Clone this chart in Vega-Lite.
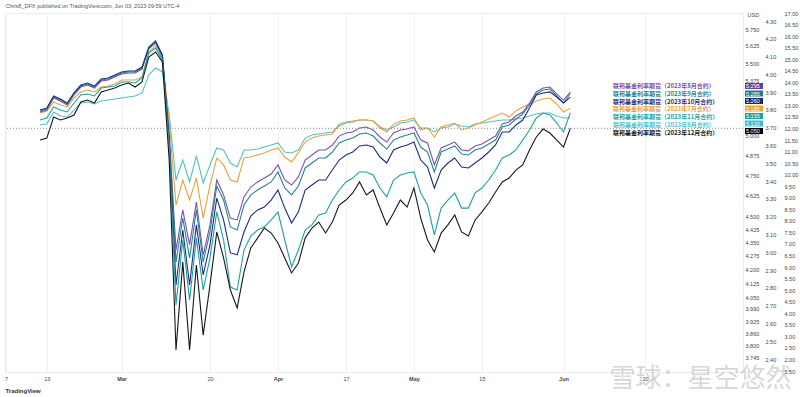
{
  "$schema": "https://vega.github.io/schema/vega-lite/v6.json",
  "width": 738,
  "height": 359,
  "autosize": "none",
  "padding": {"left": 5, "top": 13, "right": 57, "bottom": 25},
  "background": "white",
  "config": {"view": {"stroke": "#ececec"}},
  "datasets": {
    "meta": [
      {"s": "aug", "name": "联邦基金利率期货（2023年8月合约）"},
      {"s": "sep", "name": "联邦基金利率期货（2023年9月合约）"},
      {"s": "oct", "name": "联邦基金利率期货（2023年10月合约）"},
      {"s": "jul", "name": "联邦基金利率期货（2023年7月合约）"},
      {"s": "nov", "name": "联邦基金利率期货（2023年11月合约）"},
      {"s": "jun", "name": "联邦基金利率期货（2023年6月合约）"},
      {"s": "dec", "name": "联邦基金利率期货（2023年12月合约）"}
    ],
    "rates": [
      {"d":0,"jun":5.072,"jul":5.152,"aug":5.159,"sep":5.166,"oct":5.172,"nov":5.105,"dec":4.973},
      {"d":1,"jun":5.078,"jul":5.166,"aug":5.172,"sep":5.179,"oct":5.186,"nov":5.119,"dec":4.986},
      {"d":2,"jun":5.159,"jul":5.227,"aug":5.254,"sep":5.261,"oct":5.268,"nov":5.193,"dec":5.125},
      {"d":3,"jun":5.132,"jul":5.206,"aug":5.234,"sep":5.240,"oct":5.247,"nov":5.172,"dec":5.105},
      {"d":4,"jun":5.125,"jul":5.193,"aug":5.206,"sep":5.213,"oct":5.220,"nov":5.159,"dec":5.119},
      {"d":5,"jun":5.172,"jul":5.254,"aug":5.275,"sep":5.282,"oct":5.289,"nov":5.220,"dec":5.139},
      {"d":6,"jun":5.220,"jul":5.296,"aug":5.330,"sep":5.337,"oct":5.344,"nov":5.275,"dec":5.227},
      {"d":7,"jun":5.227,"jul":5.309,"aug":5.344,"sep":5.351,"oct":5.358,"nov":5.282,"dec":5.240},
      {"d":8,"jun":5.213,"jul":5.296,"aug":5.323,"sep":5.330,"oct":5.337,"nov":5.268,"dec":5.220},
      {"d":9,"jun":5.234,"jul":5.330,"aug":5.372,"sep":5.379,"oct":5.386,"nov":5.323,"dec":5.296},
      {"d":10,"jun":5.240,"jul":5.337,"aug":5.379,"sep":5.386,"oct":5.393,"nov":5.330,"dec":5.309},
      {"d":11,"jun":5.247,"jul":5.351,"aug":5.400,"sep":5.408,"oct":5.415,"nov":5.337,"dec":5.323},
      {"d":12,"jun":5.254,"jul":5.379,"aug":5.422,"sep":5.429,"oct":5.436,"nov":5.365,"dec":5.344},
      {"d":13,"jun":5.261,"jul":5.379,"aug":5.429,"sep":5.436,"oct":5.443,"nov":5.365,"dec":5.358},
      {"d":14,"jun":5.268,"jul":5.379,"aug":5.429,"sep":5.436,"oct":5.443,"nov":5.358,"dec":5.330},
      {"d":15,"jun":5.289,"jul":5.400,"aug":5.457,"sep":5.464,"oct":5.471,"nov":5.393,"dec":5.365},
      {"d":16,"jun":5.415,"jul":5.580,"aug":5.602,"sep":5.609,"oct":5.616,"nov":5.573,"dec":5.543},
      {"d":17,"jun":5.464,"jul":5.624,"aug":5.646,"sep":5.653,"oct":5.661,"nov":5.609,"dec":5.580},
      {"d":18,"jun":5.436,"jul":5.536,"aug":5.543,"sep":5.551,"oct":5.558,"nov":5.522,"dec":5.507},
      {"d":19,"jun":5.139,"jul":5.092,"aug":5.006,"sep":4.993,"oct":4.973,"nov":4.941,"dec":4.845},
      {"d":20,"jun":4.720,"jul":4.568,"aug":4.307,"sep":4.240,"oct":4.115,"nov":4.009,"dec":3.780},
      {"d":21,"jun":4.845,"jul":4.720,"aug":4.539,"sep":4.491,"oct":4.421,"nov":4.364,"dec":4.240},
      {"d":22,"jun":4.708,"jul":4.598,"aug":4.336,"sep":4.263,"oct":4.115,"nov":4.035,"dec":3.780},
      {"d":23,"jun":4.871,"jul":4.732,"aug":4.586,"sep":4.539,"oct":4.451,"nov":4.375,"dec":4.224},
      {"d":24,"jun":4.702,"jul":4.491,"aug":4.279,"sep":4.240,"oct":4.169,"nov":4.088,"dec":3.854},
      {"d":25,"jun":4.814,"jul":4.689,"aug":4.451,"sep":4.410,"oct":4.336,"nov":4.263,"dec":4.115},
      {"d":26,"jun":4.922,"jul":4.858,"aug":4.720,"sep":4.683,"oct":4.610,"nov":4.527,"dec":4.410},
      {"d":27,"jun":4.909,"jul":4.814,"aug":4.629,"sep":4.598,"oct":4.480,"nov":4.364,"dec":4.263},
      {"d":28,"jun":4.826,"jul":4.720,"aug":4.491,"sep":4.439,"oct":4.291,"nov":4.104,"dec":4.088},
      {"d":29,"jun":4.801,"jul":4.708,"aug":4.480,"sep":4.421,"oct":4.280,"nov":4.088,"dec":3.993},
      {"d":30,"jun":4.909,"jul":4.858,"aug":4.617,"sep":4.568,"oct":4.410,"nov":4.307,"dec":4.185},
      {"d":31,"jun":4.909,"jul":4.864,"aug":4.677,"sep":4.629,"oct":4.503,"nov":4.387,"dec":4.319},
      {"d":32,"jun":4.915,"jul":4.877,"aug":4.708,"sep":4.659,"oct":4.539,"nov":4.421,"dec":4.375},
      {"d":33,"jun":4.928,"jul":4.890,"aug":4.732,"sep":4.683,"oct":4.556,"nov":4.439,"dec":4.433},
      {"d":34,"jun":4.941,"jul":4.909,"aug":4.757,"sep":4.708,"oct":4.598,"nov":4.480,"dec":4.404},
      {"d":35,"jun":4.954,"jul":4.922,"aug":4.814,"sep":4.770,"oct":4.659,"nov":4.527,"dec":4.347},
      {"d":36,"jun":4.896,"jul":4.864,"aug":4.720,"sep":4.671,"oct":4.550,"nov":4.364,"dec":4.263},
      {"d":37,"jun":4.890,"jul":4.833,"aug":4.689,"sep":4.629,"oct":4.462,"nov":4.213,"dec":4.180},
      {"d":38,"jun":4.909,"jul":4.890,"aug":4.739,"sep":4.683,"oct":4.527,"nov":4.307,"dec":4.235},
      {"d":39,"jun":4.986,"jul":4.960,"aug":4.845,"sep":4.795,"oct":4.659,"nov":4.421,"dec":4.375},
      {"d":40,"jun":5.006,"jul":4.986,"aug":4.877,"sep":4.826,"oct":4.689,"nov":4.451,"dec":4.433},
      {"d":41,"jun":5.013,"jul":4.999,"aug":4.909,"sep":4.858,"oct":4.720,"nov":4.509,"dec":4.468},
      {"d":42,"jun":5.019,"jul":5.006,"aug":4.909,"sep":4.858,"oct":4.720,"nov":4.521,"dec":4.404},
      {"d":43,"jun":5.026,"jul":5.013,"aug":4.941,"sep":4.896,"oct":4.782,"nov":4.598,"dec":4.468},
      {"d":44,"jun":5.065,"jul":5.078,"aug":4.999,"sep":4.954,"oct":4.845,"nov":4.659,"dec":4.568},
      {"d":45,"jun":5.085,"jul":5.092,"aug":5.019,"sep":4.973,"oct":4.877,"nov":4.708,"dec":4.598},
      {"d":46,"jun":5.092,"jul":5.098,"aug":5.026,"sep":4.986,"oct":4.896,"nov":4.732,"dec":4.641},
      {"d":47,"jun":5.105,"jul":5.105,"aug":5.052,"sep":5.013,"oct":4.935,"nov":4.770,"dec":4.708},
      {"d":48,"jun":5.105,"jul":5.105,"aug":5.059,"sep":5.019,"oct":4.941,"nov":4.770,"dec":4.629},
      {"d":49,"jun":5.098,"jul":5.098,"aug":5.039,"sep":4.999,"oct":4.928,"nov":4.751,"dec":4.659},
      {"d":50,"jun":5.059,"jul":5.052,"aug":4.993,"sep":4.954,"oct":4.864,"nov":4.671,"dec":4.550},
      {"d":51,"jun":5.039,"jul":5.026,"aug":4.960,"sep":4.915,"oct":4.826,"nov":4.617,"dec":4.451},
      {"d":52,"jun":5.059,"jul":5.078,"aug":5.019,"sep":4.973,"oct":4.909,"nov":4.720,"dec":4.521},
      {"d":53,"jun":5.085,"jul":5.098,"aug":5.039,"sep":4.993,"oct":4.928,"nov":4.751,"dec":4.598},
      {"d":54,"jun":5.092,"jul":5.105,"aug":5.045,"sep":5.006,"oct":4.941,"nov":4.764,"dec":4.556},
      {"d":55,"jun":5.105,"jul":5.119,"aug":5.059,"sep":5.019,"oct":4.960,"nov":4.770,"dec":4.671},
      {"d":56,"jun":5.052,"jul":5.039,"aug":4.973,"sep":4.928,"oct":4.845,"nov":4.641,"dec":4.491},
      {"d":57,"jun":5.052,"jul":5.052,"aug":4.954,"sep":4.896,"oct":4.801,"nov":4.568,"dec":4.364},
      {"d":58,"jun":5.026,"jul":4.993,"aug":4.814,"sep":4.770,"oct":4.671,"nov":4.393,"dec":4.296},
      {"d":59,"jun":5.052,"jul":5.059,"aug":4.922,"sep":4.896,"oct":4.782,"nov":4.550,"dec":4.404},
      {"d":60,"jun":5.059,"jul":5.072,"aug":4.941,"sep":4.915,"oct":4.826,"nov":4.598,"dec":4.451},
      {"d":61,"jun":5.078,"jul":5.085,"aug":4.960,"sep":4.935,"oct":4.858,"nov":4.641,"dec":4.509},
      {"d":62,"jun":5.065,"jul":5.039,"aug":4.909,"sep":4.883,"oct":4.801,"nov":4.550,"dec":4.410},
      {"d":63,"jun":5.059,"jul":5.052,"aug":4.903,"sep":4.877,"oct":4.795,"nov":4.550,"dec":4.387},
      {"d":64,"jun":5.078,"jul":5.072,"aug":4.935,"sep":4.909,"oct":4.826,"nov":4.641,"dec":4.480},
      {"d":65,"jun":5.085,"jul":5.092,"aug":4.948,"sep":4.922,"oct":4.858,"nov":4.671,"dec":4.527},
      {"d":66,"jun":5.092,"jul":5.112,"aug":4.973,"sep":4.948,"oct":4.896,"nov":4.720,"dec":4.580},
      {"d":67,"jun":5.098,"jul":5.132,"aug":4.999,"sep":4.973,"oct":4.941,"nov":4.782,"dec":4.647},
      {"d":68,"jun":5.105,"jul":5.152,"aug":5.078,"sep":5.059,"oct":5.026,"nov":4.858,"dec":4.708},
      {"d":69,"jun":5.105,"jul":5.125,"aug":5.092,"sep":5.072,"oct":5.026,"nov":4.877,"dec":4.732},
      {"d":70,"jun":5.112,"jul":5.166,"aug":5.132,"sep":5.112,"oct":5.072,"nov":4.909,"dec":4.782},
      {"d":71,"jun":5.119,"jul":5.193,"aug":5.159,"sep":5.145,"oct":5.105,"nov":4.973,"dec":4.814},
      {"d":72,"jun":5.132,"jul":5.213,"aug":5.220,"sep":5.206,"oct":5.186,"nov":5.039,"dec":4.909},
      {"d":73,"jun":5.145,"jul":5.234,"aug":5.296,"sep":5.282,"oct":5.275,"nov":5.119,"dec":4.993},
      {"d":74,"jun":5.152,"jul":5.247,"aug":5.323,"sep":5.309,"oct":5.289,"nov":5.152,"dec":5.045},
      {"d":75,"jun":5.152,"jul":5.254,"aug":5.330,"sep":5.316,"oct":5.296,"nov":5.139,"dec":5.019},
      {"d":76,"jun":5.132,"jul":5.213,"aug":5.282,"sep":5.268,"oct":5.261,"nov":5.085,"dec":4.973},
      {"d":77,"jun":5.119,"jul":5.159,"aug":5.240,"sep":5.220,"oct":5.220,"nov":5.026,"dec":4.928},
      {"d":78,"jun":5.120,"jul":5.185,"aug":5.295,"sep":5.285,"oct":5.260,"nov":5.155,"dec":5.050}
    ]
  },
  "data": {"name": "rates"},
  "transform": [
    {"fold": ["jun", "jul", "aug", "sep", "oct", "nov", "dec"], "as": ["s", "v"]},
    {"lookup": "s", "from": {"data": {"name": "meta"}, "key": "s", "fields": ["name"]}}
  ],
  "layer": [
    {
      "mark": {"type": "line", "strokeWidth": 1.1},
      "encoding": {
        "x": {
          "field": "d", "type": "quantitative",
          "scale": {"domain": [-5.15, 103.4], "nice": false, "zero": false},
          "axis": {
            "values": [-5, -1.6, 1, 6, 12, 20, 25, 30, 35, 40, 45, 50, 55, 60, 65, 70, 77, 84, 89, 94],
            "labelExpr": "['7','2','13','21','Mar','13','20','27','Apr','10','17','24','May','8','15','22','Jun','12','20','Jul'][indexof([-5,-1.6,1,6,12,20,25,30,35,40,45,50,55,60,65,70,77,84,89,94], datum.value)]",
            "labelFontWeight": {"condition": {"test": "indexof([12,35,55,77,94], datum.value) >= 0", "value": "bold"}, "value": "normal"},
            "domain": false, "ticks": false, "grid": true, "gridColor": "#f1f1f1",
            "labelFontSize": 5.5, "labelColor": "#444444", "labelFont": "Liberation Sans", "labelPadding": 4,
            "labelFlush": false, "labelOverlap": false,
            "title": "雪球：星空悠然", "titleX": 695, "titleY": 6, "titleAlign": "center", "titleBaseline": "middle",
            "titleFontSize": 26, "titleFont": "Noto Sans CJK SC", "titleFontWeight": "normal", "titleColor": "#bdbdbd", "titleOpacity": 0.6
          }
        },
        "y": {
          "field": "v", "type": "quantitative",
          "scale": {"type": "log", "domain": [3.6724, 5.8716], "nice": false, "zero": false},
          "axis": {
            "orient": "right",
            "values": [3.745, 3.8, 3.86, 3.925, 3.99, 4.05, 4.125, 4.2, 4.275, 4.35, 4.425, 4.5, 4.625, 4.75, 4.875, 5.0, 5.375, 5.5, 5.625, 5.75],
            "format": ".3f", "domain": false, "ticks": false, "grid": false,
            "labelFontSize": 5.5, "labelColor": "#444444", "labelFont": "Liberation Sans", "labelPadding": 2,
            "labelOverlap": false, "labelBound": false,
            "title": "USD", "titleAngle": 0, "titleX": 4, "titleY": 1, "titleAlign": "left", "titleBaseline": "middle",
            "titleFontSize": 5.5, "titleFontWeight": "normal", "titleColor": "#444444", "titleFont": "Liberation Sans"
          }
        },
        "color": {
          "field": "name", "type": "nominal",
          "scale": {
            "domain": ["联邦基金利率期货（2023年8月合约）", "联邦基金利率期货（2023年9月合约）", "联邦基金利率期货（2023年10月合约）", "联邦基金利率期货（2023年7月合约）", "联邦基金利率期货（2023年11月合约）", "联邦基金利率期货（2023年6月合约）", "联邦基金利率期货（2023年12月合约）"],
            "range": ["#7b52ab", "#26868c", "#1f2e7a", "#e8a23a", "#1ea0a4", "#54bfc9", "#131722"]
          },
          "legend": {
            "orient": "none", "legendX": 602, "legendY": 70, "title": null, "padding": 0,
            "symbolType": "circle", "symbolSize": 0, "symbolStrokeWidth": 0, "symbolOpacity": 0,
            "labelOffset": 0, "labelFont": "Noto Sans CJK SC", "labelFontSize": 6, "labelFontWeight": "bold",
            "labelLimit": 200, "rowPadding": 1.8,
            "encode": {"labels": {"update": {"fill": {"scale": "color", "field": "value"}}}}
          }
        }
      }
    },
    {
      "transform": [{"filter": "datum.d == 78 && datum.s == 'dec'"}],
      "mark": {"type": "rule", "strokeDash": [1, 2], "color": "#8c8c8c", "strokeWidth": 1},
      "encoding": {
        "y": {"field": "v", "type": "quantitative", "scale": {"type": "log", "domain": [3.6724, 5.8716], "nice": false, "zero": false}, "axis": null}
      }
    },
    {
      "transform": [{"filter": "datum.d == 78"}],
      "mark": {"type": "point", "size": 0, "filled": true},
      "encoding": {
        "x": {"field": "d", "type": "quantitative"},
        "y": {"field": "v", "type": "quantitative", "scale": {"type": "log", "domain": [3.6724, 5.8716], "nice": false, "zero": false}, "axis": null},
        "fill": {
          "field": "v", "type": "nominal", "sort": "descending",
          "scale": {"range": ["#6a3fa0", "#1c7f86", "#1a2a6c", "#f0a030", "#19a3a3", "#3db8cc", "#000000"]},
          "legend": {
            "orient": "none", "legendX": 746, "legendY": 70, "title": null, "padding": 0,
            "symbolType": "M-3,-1H3V1H-3Z", "symbolSize": 36, "symbolStrokeWidth": 0, "symbolOpacity": 1,
            "labelOffset": -11, "labelColor": "#ffffff", "labelFontSize": 5.5, "labelFont": "Liberation Sans",
            "rowPadding": 0.5, "labelExpr": "format(datum.value, '.3f')"
          }
        }
      }
    },
    {
      "mark": {"type": "point", "size": 0, "opacity": 0},
      "encoding": {
        "x": {"field": "d", "type": "quantitative"},
        "y": {
          "field": "v", "type": "quantitative",
          "scale": {"domain": [2.327, 4.345], "nice": false, "zero": false},
          "axis": {
            "orient": "right", "offset": 20,
            "values": [2.4, 2.5, 2.6, 2.7, 2.8, 2.9, 3.0, 3.1, 3.2, 3.3, 3.4, 3.5, 3.6, 3.7, 3.8, 3.9, 4.0, 4.1, 4.2, 4.3],
            "format": ".2f", "domain": false, "ticks": false, "grid": false,
            "labelFontSize": 5.5, "labelColor": "#444444", "labelFont": "Liberation Sans", "labelPadding": 2,
            "labelOverlap": false, "labelBound": false,
            "title": "Chris8_DFX published on TradingView.com, Jun 03, 2023 09:59 UTC-4",
            "titleAngle": 0, "titleX": -758, "titleY": -8, "titleAlign": "left", "titleBaseline": "middle",
            "titleFontSize": 5.5, "titleFontWeight": "normal", "titleColor": "#555555", "titleFont": "Liberation Sans"
          }
        }
      }
    },
    {
      "mark": {"type": "point", "size": 0, "opacity": 0},
      "encoding": {
        "x": {"field": "d", "type": "quantitative"},
        "y": {
          "field": "v", "type": "quantitative",
          "scale": {"domain": [1.457, 17.0], "nice": false, "zero": false},
          "axis": {
            "orient": "right", "offset": 39,
            "values": [1.5, 2, 2.5, 3, 3.5, 4, 4.5, 5, 5.5, 6, 6.5, 7, 7.5, 8, 8.5, 9, 9.5, 10, 10.5, 11, 11.5, 12, 12.5, 13, 13.5, 14, 14.5, 15, 15.5, 16, 16.5, 17],
            "format": ".2f", "domain": false, "ticks": false, "grid": false,
            "labelFontSize": 5.5, "labelColor": "#444444", "labelFont": "Liberation Sans", "labelPadding": 2,
            "labelOverlap": false, "labelBound": false,
            "title": "TradingView", "titleAngle": 0, "titleX": -777, "titleY": 377, "titleAlign": "left", "titleBaseline": "middle",
            "titleFontSize": 6, "titleFontWeight": "bold", "titleColor": "#333333", "titleFont": "Liberation Sans"
          }
        }
      }
    }
  ],
  "resolve": {"scale": {"y": "independent"}}
}
